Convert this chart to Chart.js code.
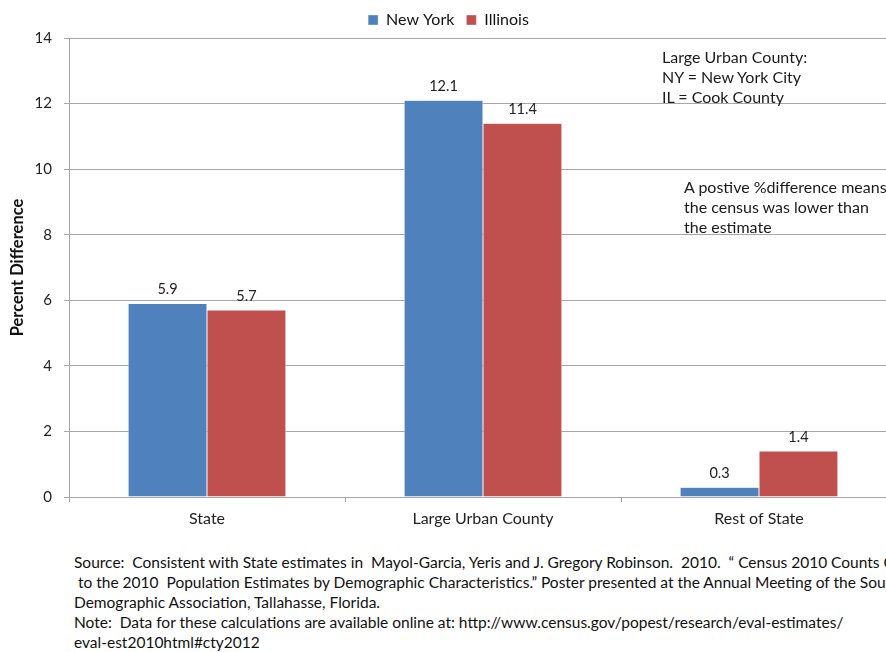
<!DOCTYPE html>
<html>
<head>
<meta charset="utf-8">
<script src="https://cdn.jsdelivr.net/npm/chart.js@4"></script>
<style>
  html, body { margin: 0; padding: 0; background: #fff; overflow: hidden; }
  body { width: 886px; height: 652px; position: relative; font-family: Lato, "Open Sans", sans-serif; color: #000; }
  #wrap { position: absolute; left: 0; top: 0; width: 900px; height: 540px; }
  .note { position: absolute; font-size: 16px; line-height: 20px; color: #1a1a1a; white-space: nowrap; }
  #foot { position: absolute; left: 74px; top: 552px; font-size: 15.5px; line-height: 20px; white-space: nowrap; color: #111; }
</style>
</head>
<body>
<div id="wrap"><canvas id="c" width="900" height="540"></canvas></div>
<div class="note" style="left:662px; top:47px;">Large Urban County:<br>NY = New York City<br>IL = Cook County</div>
<div class="note" style="left:684px; top:177px;">A postive %difference means<br>the census was lower than<br>the estimate</div>
<div id="foot">Source:&nbsp; Consistent with State estimates in&nbsp; Mayol-Garcia, Yeris and J. Gregory Robinson.&nbsp; 2010.&nbsp; “ Census 2010 Counts Compared<br>&nbsp;to the 2010&nbsp; Population Estimates by Demographic Characteristics.” Poster presented at the Annual Meeting of the Southern<br>Demographic Association, Tallahasse, Florida.<br>Note:&nbsp; Data for these calculations are available online at: http://www.census.gov/popest/research/eval-estimates/<br>eval-est2010html#cty2012</div>
<script>
const categories = ['State', 'Large Urban County', 'Rest of State'];
const newYork = [5.9, 12.1, 0.3];
const illinois = [5.7, 11.4, 1.4];
const yTicks = [0, 2, 4, 6, 8, 10, 12, 14];

const font = "Lato, 'Open Sans', sans-serif";

// value labels above each bar
const valueLabels = {
    id: 'valueLabels',
    afterDatasetsDraw(chart) {
        const ctx = chart.ctx;
        ctx.save();
        ctx.font = '14.5px ' + font;
        ctx.fillStyle = '#222';
        ctx.textAlign = 'center';
        ctx.textBaseline = 'bottom';
        chart.data.datasets.forEach((ds, i) => {
            chart.getDatasetMeta(i).data.forEach((bar, j) => {
                ctx.fillText(ds.data[j].toFixed(1), bar.x, bar.y - 7);
            });
        });
        ctx.restore();
    }
};

new Chart(document.getElementById('c'), {
    type: 'bar',
    data: {
        labels: categories,
        datasets: [
            { label: 'New York', data: newYork, backgroundColor: '#4F81BD', borderColor: '#fff', borderWidth: { right: 0.5, left: 0.5, top: 0.5 } },
            { label: 'Illinois', data: illinois, backgroundColor: '#C0504D', borderColor: '#fff', borderWidth: { right: 0.5, left: 0.5, top: 0.5 } }
        ]
    },
    options: {
        responsive: false,
        animation: false,
        layout: { padding: { top: 0, right: 3, left: 0, bottom: 0 } },
        datasets: { bar: { categoryPercentage: 0.572, barPercentage: 1 } },
        plugins: {
            legend: {
                position: 'top',
                labels: {
                    boxWidth: 10, boxHeight: 10, padding: 12,
                    color: '#111',
                    font: { family: font, size: 16 }
                }
            },
            tooltip: { enabled: false }
        },
        scales: {
            x: {
                grid: { display: true, drawOnChartArea: false, offset: true, color: '#a6a6a6', tickLength: 5 },
                border: { color: '#a6a6a6' },
                ticks: { color: '#222', font: { family: font, size: 16 }, padding: 7 },
                afterFit: s => { s.height = 43; }
            },
            y: {
                min: 0, max: 14,
                afterBuildTicks: s => { s.ticks = yTicks.map(v => ({ value: v })); },
                grid: { color: '#a6a6a6', tickLength: 5 },
                border: { color: '#a6a6a6' },
                ticks: { color: '#222', font: { family: font, size: 15 }, padding: 12 },
                title: { display: true, text: 'Percent Difference', color: '#111', font: { family: font, size: 16.5, weight: 'bold' }, padding: { top: 8, bottom: 4 } },
                afterFit: s => { s.width = 69; }
            }
        }
    },
    plugins: [valueLabels]
});
</script>
</body>
</html>
